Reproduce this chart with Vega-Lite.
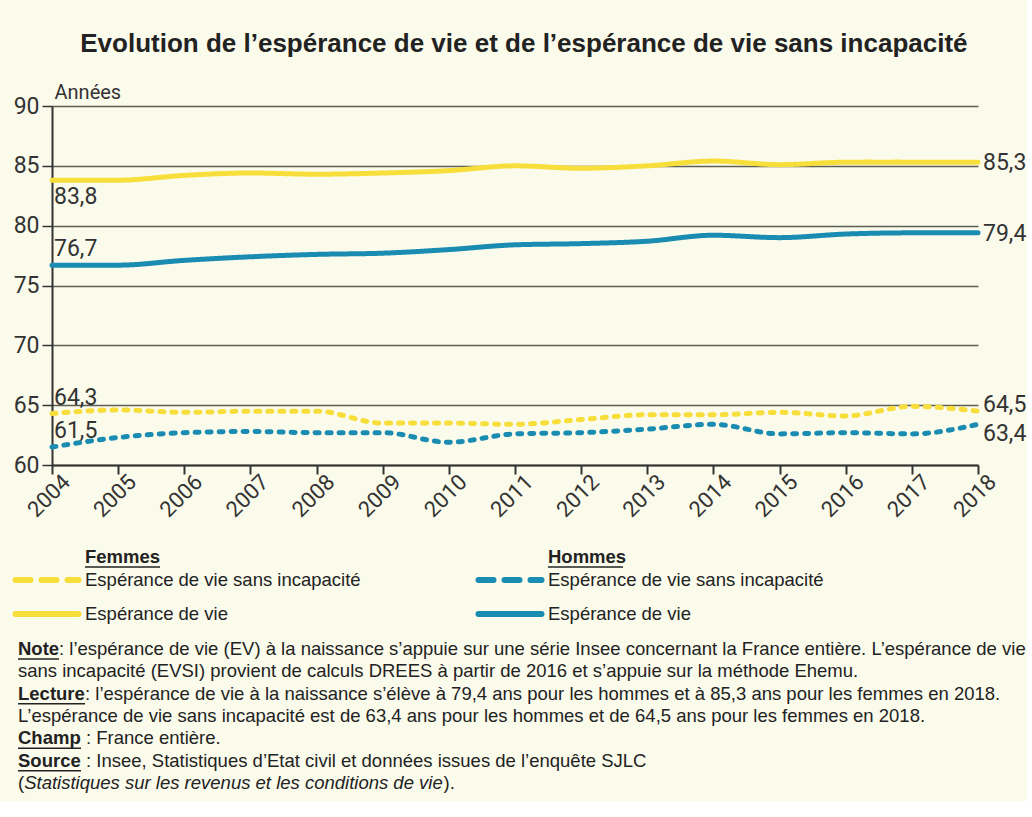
{
  "$schema": "https://vega.github.io/schema/vega-lite/v6.json",
  "background": "#fbfbec",
  "padding": {"left": 3, "top": 31, "right": 0, "bottom": 0},
  "autosize": {"type": "pad"},
  "title": {"text": "Evolution de l’espérance de vie et de l’espérance de vie sans incapacité", "font": "Liberation Sans", "fontSize": 26, "fontWeight": "bold", "color": "#222222", "anchor": "middle", "offset": 25, "dx": 9},
  "config": {
    "locale": {"number": {"decimal": ",", "thousands": " ", "grouping": [3], "currency": ["", " €"]}},
    "view": {"stroke": null},
    "font": "Liberation Sans"
  },
  "spacing": 18,
  "datasets": {
    "series": [
      {"annee": 2004, "sexe": "Femmes", "indicateur": "EV", "valeur": 83.8},
      {"annee": 2005, "sexe": "Femmes", "indicateur": "EV", "valeur": 83.8},
      {"annee": 2006, "sexe": "Femmes", "indicateur": "EV", "valeur": 84.2},
      {"annee": 2007, "sexe": "Femmes", "indicateur": "EV", "valeur": 84.4},
      {"annee": 2008, "sexe": "Femmes", "indicateur": "EV", "valeur": 84.3},
      {"annee": 2009, "sexe": "Femmes", "indicateur": "EV", "valeur": 84.4},
      {"annee": 2010, "sexe": "Femmes", "indicateur": "EV", "valeur": 84.6},
      {"annee": 2011, "sexe": "Femmes", "indicateur": "EV", "valeur": 85.0},
      {"annee": 2012, "sexe": "Femmes", "indicateur": "EV", "valeur": 84.8},
      {"annee": 2013, "sexe": "Femmes", "indicateur": "EV", "valeur": 85.0},
      {"annee": 2014, "sexe": "Femmes", "indicateur": "EV", "valeur": 85.4},
      {"annee": 2015, "sexe": "Femmes", "indicateur": "EV", "valeur": 85.1},
      {"annee": 2016, "sexe": "Femmes", "indicateur": "EV", "valeur": 85.3},
      {"annee": 2017, "sexe": "Femmes", "indicateur": "EV", "valeur": 85.3},
      {"annee": 2018, "sexe": "Femmes", "indicateur": "EV", "valeur": 85.3},
      {"annee": 2004, "sexe": "Hommes", "indicateur": "EV", "valeur": 76.7},
      {"annee": 2005, "sexe": "Hommes", "indicateur": "EV", "valeur": 76.7},
      {"annee": 2006, "sexe": "Hommes", "indicateur": "EV", "valeur": 77.1},
      {"annee": 2007, "sexe": "Hommes", "indicateur": "EV", "valeur": 77.4},
      {"annee": 2008, "sexe": "Hommes", "indicateur": "EV", "valeur": 77.6},
      {"annee": 2009, "sexe": "Hommes", "indicateur": "EV", "valeur": 77.7},
      {"annee": 2010, "sexe": "Hommes", "indicateur": "EV", "valeur": 78.0},
      {"annee": 2011, "sexe": "Hommes", "indicateur": "EV", "valeur": 78.4},
      {"annee": 2012, "sexe": "Hommes", "indicateur": "EV", "valeur": 78.5},
      {"annee": 2013, "sexe": "Hommes", "indicateur": "EV", "valeur": 78.7},
      {"annee": 2014, "sexe": "Hommes", "indicateur": "EV", "valeur": 79.2},
      {"annee": 2015, "sexe": "Hommes", "indicateur": "EV", "valeur": 79.0},
      {"annee": 2016, "sexe": "Hommes", "indicateur": "EV", "valeur": 79.3},
      {"annee": 2017, "sexe": "Hommes", "indicateur": "EV", "valeur": 79.4},
      {"annee": 2018, "sexe": "Hommes", "indicateur": "EV", "valeur": 79.4},
      {"annee": 2004, "sexe": "Femmes", "indicateur": "EVSI", "valeur": 64.3},
      {"annee": 2005, "sexe": "Femmes", "indicateur": "EVSI", "valeur": 64.6},
      {"annee": 2006, "sexe": "Femmes", "indicateur": "EVSI", "valeur": 64.4},
      {"annee": 2007, "sexe": "Femmes", "indicateur": "EVSI", "valeur": 64.5},
      {"annee": 2008, "sexe": "Femmes", "indicateur": "EVSI", "valeur": 64.5},
      {"annee": 2009, "sexe": "Femmes", "indicateur": "EVSI", "valeur": 63.5},
      {"annee": 2010, "sexe": "Femmes", "indicateur": "EVSI", "valeur": 63.5},
      {"annee": 2011, "sexe": "Femmes", "indicateur": "EVSI", "valeur": 63.4},
      {"annee": 2012, "sexe": "Femmes", "indicateur": "EVSI", "valeur": 63.8},
      {"annee": 2013, "sexe": "Femmes", "indicateur": "EVSI", "valeur": 64.2},
      {"annee": 2014, "sexe": "Femmes", "indicateur": "EVSI", "valeur": 64.2},
      {"annee": 2015, "sexe": "Femmes", "indicateur": "EVSI", "valeur": 64.4},
      {"annee": 2016, "sexe": "Femmes", "indicateur": "EVSI", "valeur": 64.1},
      {"annee": 2017, "sexe": "Femmes", "indicateur": "EVSI", "valeur": 64.9},
      {"annee": 2018, "sexe": "Femmes", "indicateur": "EVSI", "valeur": 64.5},
      {"annee": 2004, "sexe": "Hommes", "indicateur": "EVSI", "valeur": 61.5},
      {"annee": 2005, "sexe": "Hommes", "indicateur": "EVSI", "valeur": 62.3},
      {"annee": 2006, "sexe": "Hommes", "indicateur": "EVSI", "valeur": 62.7},
      {"annee": 2007, "sexe": "Hommes", "indicateur": "EVSI", "valeur": 62.8},
      {"annee": 2008, "sexe": "Hommes", "indicateur": "EVSI", "valeur": 62.7},
      {"annee": 2009, "sexe": "Hommes", "indicateur": "EVSI", "valeur": 62.7},
      {"annee": 2010, "sexe": "Hommes", "indicateur": "EVSI", "valeur": 61.9},
      {"annee": 2011, "sexe": "Hommes", "indicateur": "EVSI", "valeur": 62.6},
      {"annee": 2012, "sexe": "Hommes", "indicateur": "EVSI", "valeur": 62.7},
      {"annee": 2013, "sexe": "Hommes", "indicateur": "EVSI", "valeur": 63.0},
      {"annee": 2014, "sexe": "Hommes", "indicateur": "EVSI", "valeur": 63.4},
      {"annee": 2015, "sexe": "Hommes", "indicateur": "EVSI", "valeur": 62.6},
      {"annee": 2016, "sexe": "Hommes", "indicateur": "EVSI", "valeur": 62.7},
      {"annee": 2017, "sexe": "Hommes", "indicateur": "EVSI", "valeur": 62.6},
      {"annee": 2018, "sexe": "Hommes", "indicateur": "EVSI", "valeur": 63.4}
    ],
    "legende": [
      {"sexe": "Femmes", "indicateur": "EVSI", "ordre": 1, "libelle": "Espérance de vie sans incapacité"},
      {"sexe": "Femmes", "indicateur": "EV", "ordre": 2, "libelle": "Espérance de vie"},
      {"sexe": "Hommes", "indicateur": "EVSI", "ordre": 1, "libelle": "Espérance de vie sans incapacité"},
      {"sexe": "Hommes", "indicateur": "EV", "ordre": 2, "libelle": "Espérance de vie"}
    ],
    "notes": [
      {"ligne": 1, "gras": "Note", "texte": ": l’espérance de vie (EV) à la naissance s’appuie sur une série Insee concernant la France entière. L’espérance de vie", "italique": "", "fin": ""},
      {"ligne": 2, "gras": "", "texte": "sans incapacité (EVSI) provient de calculs DREES à partir de 2016 et s’appuie sur la méthode Ehemu.", "italique": "", "fin": ""},
      {"ligne": 3, "gras": "Lecture", "texte": ": l’espérance de vie à la naissance s’élève à 79,4 ans pour les hommes et à 85,3 ans pour les femmes en 2018.", "italique": "", "fin": ""},
      {"ligne": 4, "gras": "", "texte": "L’espérance de vie sans incapacité est de 63,4 ans pour les hommes et de 64,5 ans pour les femmes en 2018.", "italique": "", "fin": ""},
      {"ligne": 5, "gras": "Champ", "texte": ": France entière.", "italique": "", "fin": ""},
      {"ligne": 6, "gras": "Source", "texte": ": Insee, Statistiques d’Etat civil et données issues de l’enquête SJLC", "italique": "", "fin": ""},
      {"ligne": 7, "gras": "", "texte": "(", "italique": "Statistiques sur les revenus et les conditions de vie", "fin": ")."}
    ]
  },
  "vconcat": [
    {
      "width": 926,
      "height": 359,
      "data": {"name": "series"},
      "encoding": {
        "x": {"field": "annee", "type": "ordinal", "scale": {"type": "point", "padding": 0},
          "axis": {"title": null, "labelAngle": -45, "labelAlign": "right", "labelBaseline": "middle", "labelOffset": 14, "labelFont": "Roboto", "labelFontSize": 22, "labelColor": "#333333", "domainColor": "#333333", "domainWidth": 2, "tickColor": "#333333", "tickWidth": 2, "tickSize": 9, "labelPadding": 4, "grid": false}},
        "y": {"field": "valeur", "type": "quantitative", "scale": {"domain": [60, 90], "nice": false, "zero": false},
          "axis": {"title": "Années", "titleAngle": 0, "titleAlign": "left", "titleBaseline": "bottom", "titleX": 2, "titleY": -4, "titleFont": "Roboto", "titleFontSize": 20, "titleFontWeight": "normal", "titleColor": "#333333", "values": [60, 65, 70, 75, 80, 85, 90], "labelFont": "Roboto", "labelFontSize": 23, "labelColor": "#333333", "domainColor": "#333333", "domainWidth": 2, "tickColor": "#333333", "tickWidth": 1.5, "tickSize": 10, "labelPadding": 3, "grid": true, "gridColor": "#5e5e52", "gridWidth": 1.5}}
      },
      "layer": [
        {
          "mark": {"type": "line", "interpolate": "monotone", "strokeWidth": 5, "strokeCap": "round"},
          "encoding": {
            "color": {"field": "sexe", "type": "nominal", "scale": {"domain": ["Femmes", "Hommes"], "range": ["#f7de3a", "#1a8cb1"]}, "legend": null},
            "strokeDash": {"field": "indicateur", "type": "nominal", "scale": {"domain": ["EV", "EVSI"], "range": [[1, 0], [4, 8]]}, "legend": null}
          }
        },
        {
          "transform": [{"filter": "datum.annee === 2004 && !(datum.sexe === 'Femmes' && datum.indicateur === 'EV')"}],
          "mark": {"type": "text", "align": "left", "baseline": "middle", "dx": 2, "dy": -16, "font": "Roboto", "fontSize": 23, "color": "#333333"},
          "encoding": {"text": {"field": "valeur", "type": "quantitative", "format": ".1f"}}
        },
        {
          "transform": [{"filter": "datum.annee === 2004 && datum.sexe === 'Femmes' && datum.indicateur === 'EV'"}],
          "mark": {"type": "text", "align": "left", "baseline": "middle", "dx": 2, "dy": 17, "font": "Roboto", "fontSize": 23, "color": "#333333"},
          "encoding": {"text": {"field": "valeur", "type": "quantitative", "format": ".1f"}}
        },
        {
          "transform": [{"filter": "datum.annee === 2018 && datum.indicateur === 'EV'"}],
          "mark": {"type": "text", "align": "left", "baseline": "middle", "dx": 5, "dy": 1, "font": "Roboto", "fontSize": 23, "color": "#333333"},
          "encoding": {"text": {"field": "valeur", "type": "quantitative", "format": ".1f"}}
        },
        {
          "transform": [{"filter": "datum.annee === 2018 && datum.indicateur === 'EVSI' && datum.sexe === 'Femmes'"}],
          "mark": {"type": "text", "align": "left", "baseline": "middle", "dx": 5, "dy": -6, "font": "Roboto", "fontSize": 23, "color": "#333333"},
          "encoding": {"text": {"field": "valeur", "type": "quantitative", "format": ".1f"}}
        },
        {
          "transform": [{"filter": "datum.annee === 2018 && datum.indicateur === 'EVSI' && datum.sexe === 'Hommes'"}],
          "mark": {"type": "text", "align": "left", "baseline": "middle", "dx": 5, "dy": 10, "font": "Roboto", "fontSize": 23, "color": "#333333"},
          "encoding": {"text": {"field": "valeur", "type": "quantitative", "format": ".1f"}}
        }
      ]
    },
    {
      "width": 926,
      "height": 262,
      "layer": [
        {
          "data": {"name": "legende"},
          "encoding": {
            "x": {"field": "sexe", "type": "nominal", "bandPosition": 0, "scale": {"type": "band", "domain": ["Femmes", "Hommes"], "paddingInner": 0, "paddingOuter": 0}, "axis": null},
            "y": {"field": "ordre", "type": "ordinal", "scale": {"type": "point", "domain": [1, 2], "range": [41, 75], "padding": 0}, "axis": null}
          },
          "layer": [
            {
              "transform": [{"filter": "datum.indicateur === 'EV'"}],
              "mark": {"type": "point", "shape": "stroke", "size": 3969, "strokeWidth": 6, "filled": false, "opacity": 1, "strokeCap": "round", "xOffset": -5},
              "encoding": {"color": {"field": "sexe", "type": "nominal", "scale": {"domain": ["Femmes", "Hommes"], "range": ["#f7de3a", "#1a8cb1"]}, "legend": null}}
            },
            {
              "transform": [{"filter": "datum.indicateur === 'EVSI'"}],
              "mark": {"type": "point", "shape": "stroke", "size": 3969, "strokeWidth": 6, "filled": false, "opacity": 1, "strokeCap": "round", "strokeDash": [15, 11], "xOffset": -5},
              "encoding": {"color": {"field": "sexe", "type": "nominal", "scale": {"domain": ["Femmes", "Hommes"], "range": ["#f7de3a", "#1a8cb1"]}, "legend": null}}
            },
            {
              "mark": {"type": "text", "align": "left", "baseline": "middle", "dx": 33, "font": "Liberation Sans", "fontSize": 18.5, "color": "#222222"},
              "encoding": {"text": {"field": "libelle", "type": "nominal"}}
            },
            {
              "transform": [{"filter": "datum.ordre === 1"}],
              "mark": {"type": "text", "align": "left", "baseline": "middle", "dx": 33, "dy": -23, "font": "Liberation Sans", "fontSize": 18.5, "fontWeight": "bold", "color": "#222222"},
              "encoding": {"text": {"field": "sexe", "type": "nominal"}}
            },
            {
              "transform": [{"filter": "datum.ordre === 1"}],
              "mark": {"type": "point", "shape": "stroke", "size": 5625, "strokeWidth": 1.5, "filled": false, "opacity": 1, "color": "#222222", "xOffset": 70.5, "yOffset": -13},
              "encoding": {}
            }
          ]
        },
        {
          "data": {"name": "notes"},
          "encoding": {
            "x": {"value": 0},
            "y": {"field": "ligne", "type": "ordinal", "scale": {"type": "point", "domain": [1, 2, 3, 4, 5, 6, 7], "range": [110, 244], "padding": 0}, "axis": null}
          },
          "layer": [
            {
              "transform": [{"filter": "datum.gras !== ''"}],
              "mark": {"type": "text", "align": "left", "baseline": "middle", "dx": -34, "font": "Liberation Sans", "fontSize": 18.5, "fontWeight": "bold", "color": "#222222"},
              "encoding": {"text": {"field": "gras", "type": "nominal"}}
            },
            {
              "transform": [{"filter": "datum.gras === ''"}],
              "mark": {"type": "text", "align": "left", "baseline": "middle", "dx": -34, "font": "Liberation Sans", "fontSize": 18.5, "color": "#222222"},
              "encoding": {"text": {"field": "texte", "type": "nominal"}}
            },
            {
              "transform": [{"filter": "datum.italique !== ''"}],
              "mark": {"type": "text", "align": "left", "baseline": "middle", "dx": -27.8, "font": "Liberation Sans", "fontSize": 18.5, "fontStyle": "italic", "color": "#222222"},
              "encoding": {"text": {"field": "italique", "type": "nominal"}}
            },
            {
              "transform": [{"filter": "datum.fin !== ''"}],
              "mark": {"type": "text", "align": "left", "baseline": "middle", "dx": 391.5, "font": "Liberation Sans", "fontSize": 18.5, "color": "#222222"},
              "encoding": {"text": {"field": "fin", "type": "nominal"}}
            },
            {
              "transform": [{"filter": "datum.gras === 'Note'"}],
              "mark": {"type": "text", "align": "left", "baseline": "middle", "dx": 7, "font": "Liberation Sans", "fontSize": 18.5, "color": "#222222"},
              "encoding": {"text": {"field": "texte", "type": "nominal"}}
            },
            {
              "transform": [{"filter": "datum.gras === 'Lecture'"}],
              "mark": {"type": "text", "align": "left", "baseline": "middle", "dx": 33, "font": "Liberation Sans", "fontSize": 18.5, "color": "#222222"},
              "encoding": {"text": {"field": "texte", "type": "nominal"}}
            },
            {
              "transform": [{"filter": "datum.gras === 'Champ' || datum.gras === 'Source'"}],
              "mark": {"type": "text", "align": "left", "baseline": "middle", "dx": 34, "font": "Liberation Sans", "fontSize": 18.5, "color": "#222222"},
              "encoding": {"text": {"field": "texte", "type": "nominal"}}
            },
            {
              "transform": [{"filter": "datum.gras === 'Note'"}],
              "mark": {"type": "point", "shape": "stroke", "size": 1681, "strokeWidth": 1.5, "filled": false, "opacity": 1, "color": "#222222", "xOffset": -13.5, "yOffset": 10},
              "encoding": {}
            },
            {
              "transform": [{"filter": "datum.gras === 'Lecture'"}],
              "mark": {"type": "point", "shape": "stroke", "size": 4489, "strokeWidth": 1.5, "filled": false, "opacity": 1, "color": "#222222", "xOffset": -0.5, "yOffset": 10},
              "encoding": {}
            },
            {
              "transform": [{"filter": "datum.gras === 'Champ' || datum.gras === 'Source'"}],
              "mark": {"type": "point", "shape": "stroke", "size": 3969, "strokeWidth": 1.5, "filled": false, "opacity": 1, "color": "#222222", "xOffset": -2.5, "yOffset": 10},
              "encoding": {}
            }
          ]
        }
      ],
      "resolve": {"scale": {"y": "independent", "x": "independent"}}
    }
  ]
}
